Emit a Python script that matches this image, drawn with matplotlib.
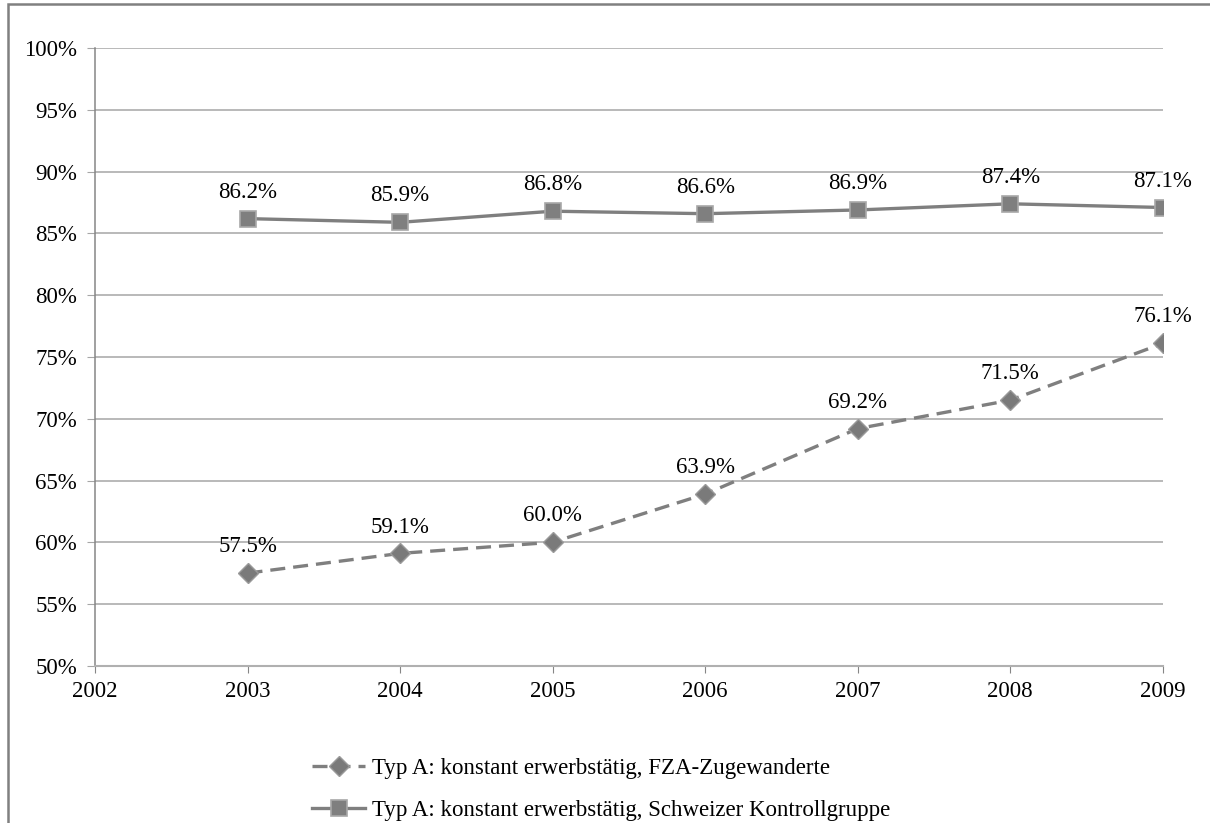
import matplotlib.pyplot as plt
from matplotlib.patches import Rectangle
from matplotlib.ticker import FuncFormatter

years = [2003, 2004, 2005, 2006, 2007, 2008, 2009]
fza = [57.5, 59.1, 60.0, 63.9, 69.2, 71.5, 76.1]
schweiz = [86.2, 85.9, 86.8, 86.6, 86.9, 87.4, 87.1]
label_fza = "Typ A: konstant erwerbstätig, FZA-Zugewanderte"
label_ch = "Typ A: konstant erwerbstätig, Schweizer Kontrollgruppe"

plt.rcParams['font.family'] = ['Liberation Serif', 'DejaVu Serif']
fs = 16.5

fig = plt.figure(figsize=(12.1, 8.23), dpi=100)
ax = fig.add_axes([0.0785, 0.191, 0.8825, 0.7505])

# rahmen oben/links wie im original
fig.patches.append(Rectangle((8 / 1210, -0.1), 1.2, 1 - 4 / 823 + 0.1,
                             transform=fig.transFigure, fill=False,
                             edgecolor='#808080', linewidth=1.8))

col = '#7f7f7f'
ax.plot(years, fza, linestyle=(0, (4.5, 2.4)), color=col, linewidth=2.4,
        marker='D', markersize=10, markerfacecolor='#7a7a7a',
        markeredgecolor='#9a9a9a', markeredgewidth=1, label=label_fza)
ax.plot(years, schweiz, linestyle='-', color=col, linewidth=2.4,
        marker='s', markersize=11.5, markerfacecolor='#7f7f7f',
        markeredgecolor='#a8a8a8', markeredgewidth=1.2, label=label_ch)

for x, y in zip(years, fza):
    ax.annotate(f"{y:.1f}%", (x, y), xytext=(0, 19), textcoords='offset points',
                ha='center', va='center', fontsize=fs)
for x, y in zip(years, schweiz):
    ax.annotate(f"{y:.1f}%", (x, y), xytext=(0, 19), textcoords='offset points',
                ha='center', va='center', fontsize=fs)

ax.set_xlim(2002, 2009)
ax.set_ylim(50, 100)
ax.set_xticks(range(2002, 2010))
ax.set_yticks(range(50, 101, 5))
ax.yaxis.set_major_formatter(FuncFormatter(lambda v, p: f"{v:.0f}%"))
ax.grid(axis='y', color='#a6a6a6', linewidth=1.1)
ax.set_axisbelow(True)
for s in ['top', 'right']:
    ax.spines[s].set_visible(False)
ax.spines['left'].set_color('#868686')
ax.spines['bottom'].set_color('#b0b0b0')
ax.spines['left'].set_linewidth(1.1)
ax.spines['bottom'].set_linewidth(1.5)
ax.tick_params(axis='y', length=6, color='#a6a6a6', labelsize=fs, pad=7)
ax.tick_params(axis='x', length=5, color='#868686', labelsize=fs, pad=6)

fig.legend(loc='upper left', bbox_to_anchor=(303 / 1210, 1 - 749 / 823),
           frameon=False, fontsize=fs, handlelength=2.3, handletextpad=0.3,
           labelspacing=0.92, borderaxespad=0)

fig.savefig('out.png', dpi=100)
